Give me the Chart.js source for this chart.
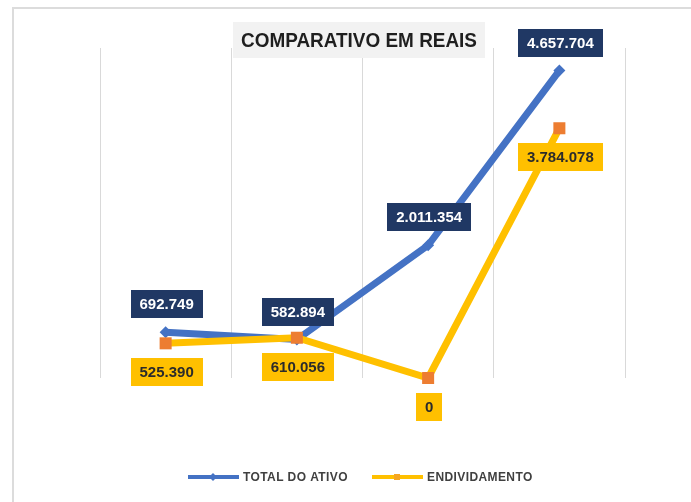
<!DOCTYPE html>
<html>
<head>
<meta charset="utf-8">
<title>Comparativo em reais</title>
<script src="https://cdn.jsdelivr.net/npm/chart.js@4.4.1/dist/chart.umd.min.js"></script>
<style>
    html, body {
        margin: 0;
        padding: 0;
        background: #ffffff;
    }

    #wrap {
        position: relative;
        width: 691px;
        height: 502px;
    }
</style>
</head>
<body>
<div id="wrap">
    <canvas id="comparativo"></canvas>
</div>
<script>
/* ==========================================================
   COMPARATIVO EM REAIS - TOTAL DO ATIVO x ENDIVIDAMENTO
   ========================================================== */

const categories = ["", "", "", ""];

const totalAtivo = [692749, 582894, 2011354, 4657704];

const endividamento = [525390, 610056, 0, 3784078];

const seriesNames = ["TOTAL DO ATIVO", "ENDIVIDAMENTO"];

const chartTitle = "COMPARATIVO EM REAIS";

const BLUE = "#4472c4";
const NAVY = "#203864";
const GOLD = "#ffc000";
const ORANGE = "#ed7d31";
const GRID = "#d9d9d9";

// 1234567 -> "1.234.567"
function formatReais(v) {
    return String(Math.round(v)).replace(/\B(?=(\d{3})+(?!\d))/g, ".");
}

// frame, title box and legend
const decorPlugin = {
    id: "decor",
    beforeDraw(chart) {
        const ctx = chart.ctx;
        ctx.save();
        ctx.fillStyle = "#ffffff";
        ctx.fillRect(0, 0, chart.width, chart.height);
        ctx.strokeStyle = "#dcdcdc";
        ctx.lineWidth = 2;
        ctx.beginPath();
        ctx.moveTo(13, chart.height);
        ctx.lineTo(13, 8);
        ctx.lineTo(chart.width, 8);
        ctx.stroke();
        ctx.restore();
    },
    afterDraw(chart) {
        const ctx = chart.ctx;
        ctx.save();

        // title
        ctx.fillStyle = "#f2f2f2";
        ctx.fillRect(233, 22, 252, 36);
        ctx.fillStyle = "#1f1f1f";
        ctx.font = "bold 20px 'Liberation Sans'";
        ctx.textAlign = "center";
        ctx.textBaseline = "middle";
        ctx.fillText(chartTitle, 359, 41, 236);

        // legend
        const items = [
            { x: 188, color: BLUE, marker: "diamond" },
            { x: 372, color: GOLD, marker: "square" }
        ];
        ctx.font = "bold 12px 'Liberation Sans'";
        ctx.letterSpacing = "0.4px";
        ctx.textAlign = "left";
        items.forEach((it, i) => {
            const y = 477;
            ctx.strokeStyle = it.color;
            ctx.lineWidth = 4;
            ctx.beginPath();
            ctx.moveTo(it.x, y);
            ctx.lineTo(it.x + 51, y);
            ctx.stroke();
            ctx.fillStyle = it.marker === "square" ? "#f5a623" : it.color;
            const cx = it.x + 25;
            if (it.marker === "diamond") {
                ctx.beginPath();
                ctx.moveTo(cx, y - 4);
                ctx.lineTo(cx + 4, y);
                ctx.lineTo(cx, y + 4);
                ctx.lineTo(cx - 4, y);
                ctx.closePath();
                ctx.fill();
            } else {
                ctx.fillRect(cx - 3, y - 3, 6, 6);
            }
            ctx.fillStyle = "#404040";
            ctx.fillText(seriesNames[i], it.x + 55, y + 1);
        });

        ctx.restore();
    }
};

// value boxes above (ativo) and below (endividamento) each point
const labelPlugin = {
    id: "valueBoxes",
    afterDatasetsDraw(chart) {
        const ctx = chart.ctx;
        ctx.save();
        ctx.font = "bold 15px 'Liberation Sans'";
        ctx.textAlign = "center";
        ctx.textBaseline = "middle";

        chart.data.datasets.forEach((ds, di) => {
            const meta = chart.getDatasetMeta(di);
            const above = di === 0;
            meta.data.forEach((pt, i) => {
                const text = formatReais(ds.data[i]);
                const w = ctx.measureText(text).width + 18;
                const h = 28;
                const cx = pt.x + 1;
                const cy = above ? pt.y - 28 : pt.y + 29;
                ctx.fillStyle = above ? NAVY : GOLD;
                ctx.fillRect(Math.round(cx - w / 2), Math.round(cy - h / 2), Math.round(w), h);
                ctx.fillStyle = above ? "#ffffff" : "#2b2b2b";
                ctx.fillText(text, cx, cy + 1);
            });
        });

        ctx.restore();
    }
};

new Chart(document.getElementById("comparativo"), {

    type: "line",

    data: {

        labels: categories,

        datasets: [

            {
                label: seriesNames[0],
                data: totalAtivo,
                borderColor: BLUE,
                backgroundColor: BLUE,
                borderWidth: 7,
                pointStyle: "rectRot",
                pointRadius: 6,
                pointBorderWidth: 0,
                tension: 0,
                clip: false,
                order: 1
            },

            {
                label: seriesNames[1],
                data: endividamento,
                borderColor: GOLD,
                backgroundColor: ORANGE,
                borderWidth: 7,
                pointStyle: "rect",
                pointRadius: 8.5,
                pointBorderWidth: 0,
                tension: 0,
                clip: false,
                order: 0
            }

        ]

    },

    options: {

        responsive: true,

        maintainAspectRatio: false,

        animation: false,

        layout: {
            padding: {
                left: 100,
                right: 66,
                top: 48,
                bottom: 124
            }
        },

        plugins: {
            legend: {
                display: false
            },
            title: {
                display: false
            },
            tooltip: {
                enabled: false
            }
        },

        scales: {

            x: {
                offset: true,
                grid: {
                    offset: true,
                    color: GRID,
                    lineWidth: 1,
                    drawTicks: false
                },
                border: {
                    display: false
                },
                ticks: {
                    display: false
                }
            },

            y: {
                display: false,
                min: 0,
                max: 5000000
            }

        }

    },

    plugins: [decorPlugin, labelPlugin]

});
</script>
</body>
</html>
